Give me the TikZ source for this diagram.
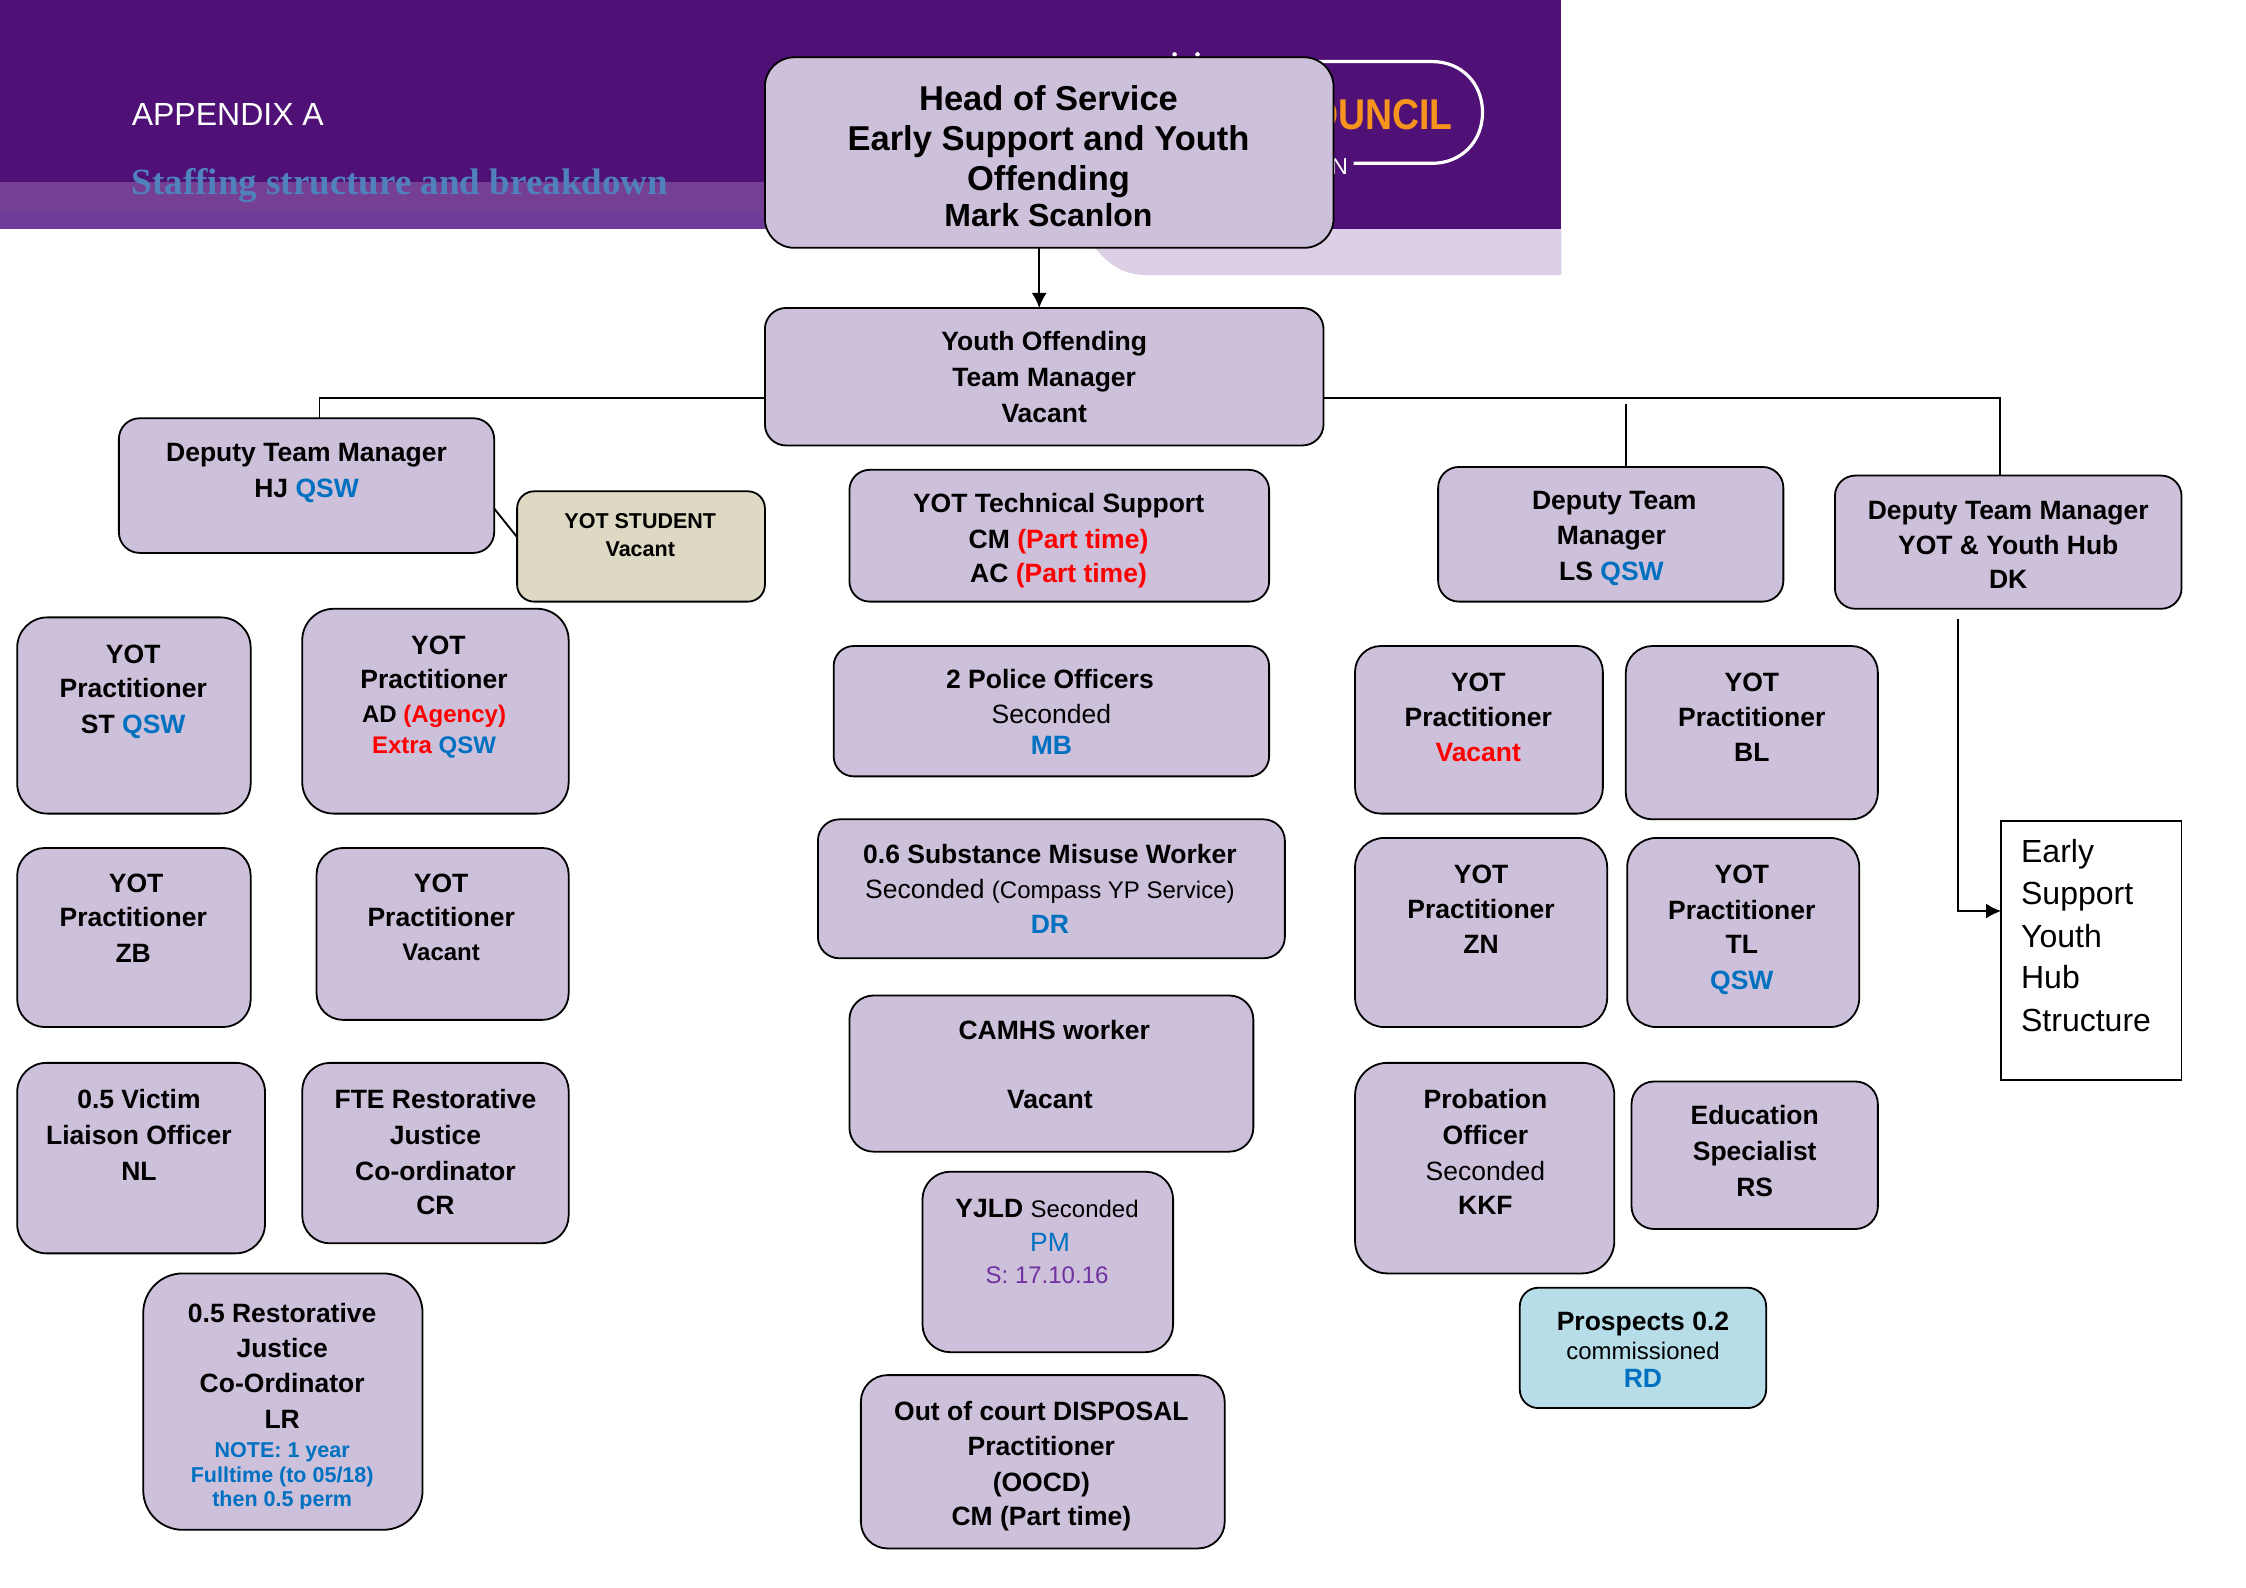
\documentclass[tikz,border=0pt]{standalone}
\usepackage{graphicx}
\usepackage{fontspec}
\setmainfont{Liberation Sans}
\newfontfamily\serifhead{Liberation Serif}
\usetikzlibrary{arrows.meta}
\definecolor{boxfill}{HTML}{CCC0DA}
\definecolor{qsw}{HTML}{0070C0}
\definecolor{hdr}{HTML}{4F1175}
\definecolor{bandA}{HTML}{754093}
\definecolor{bandB}{HTML}{703C9A}
\definecolor{lav}{HTML}{DCD0E6}
\definecolor{stud}{HTML}{DDD9C3}
\definecolor{pros}{HTML}{B7DEE8}
\definecolor{sdate}{HTML}{7030A0}
\definecolor{stafftxt}{HTML}{4F81BD}
\definecolor{orangec}{HTML}{F7941E}
\newcounter{tlc}
\newcommand{\sz}[1]{\fontsize{#1}{#1}\selectfont}
\newcommand{\bx}[6][]{\pgfmathsetmacro{\rr}{min(#4-#2,#5-#3)*1.4324/6.5}\node[orgbox,rounded corners=\rr pt,#1,minimum width={(#4-#2)*1.4324pt},minimum height={(#5-#3)*1.4324pt}] (#6) at ({(#2+#4)/2},{(#3+#5)/2}) {};}
\newcommand{\tl}[4][]{\stepcounter{tlc}\node[linetext,#1,yshift={-(0.36*\curfs-2.2)*1pt}] (t\thetlc) at (#2,#3) {#4};}
\newcommand{\Q}[1]{\textcolor{qsw}{#1}}
\newcommand{\R}[1]{\textcolor{red}{#1}}
\begin{document}
\begin{tikzpicture}[x=1.4324pt,y=-1.4324pt,
  fs/.code={\def\curfs{#1}},
  orgbox/.style={draw=black,line width=1.8pt,fill=boxfill,inner sep=0pt,outer sep=0pt},
  plainbox/.style={draw=black,line width=1.8pt,fill=white,rounded corners=0pt},
  linetext/.style={inner sep=0pt,outer sep=0pt,anchor=mid,fs=26.5,font=\sz{26.5}\bfseries,text=black},
  small/.style={fs=24,font=\sz{24}\bfseries},
  tiny/.style={fs=21.5,font=\sz{21.5}\bfseries},
  reg/.style={font=\sz{26.5}},
  lgreg/.style={anchor=mid west,fs=32,font=\sz{32}},
  link/.style={draw=black,line width=1.8pt},
  big/.style={fs=34.5,font=\sz{34.5}\bfseries}]
\useasboundingbox (0,0) rectangle (1568,1108.6);
% header
\fill[hdr] (0,0) rectangle (1090,160);
\fill[bandA] (0,127) rectangle (560,147);
\fill[bandB] (0,147) rectangle (560,160);
\fill[lav] (755,160) .. controls (768,180) and (780,192) .. (800,192) -- (1090,192) -- (1090,160) -- cycle;
\draw[white,line width=3.2pt] (900,43) -- (1000,43) .. controls (1020,43) and (1035,58) .. (1035,78.5) .. controls (1035,99) and (1020,114) .. (1000,114) -- (945,114);
\fill[white] (820,38) circle (1.6);
\fill[white] (836,38) circle (1.6);
\tl[anchor=mid east,fs=43,font=\sz{43}\bfseries,text=orangec]{1014}{79}{\scalebox{.87}[1]{OUNCIL}}
\tl[anchor=mid east,fs=23,font=\sz{23},text=white]{941}{116}{N}
\tl[anchor=mid west,fs=32,font=\sz{32},text=white]{92}{79}{APPENDIX A}
\tl[anchor=mid west,fs=37,font=\serifhead\bfseries\sz{37},text=stafftxt]{92}{126}{Staffing structure and breakdown}
% boxes
\bx{534}{40}{931}{173}{head}
\bx{534}{215}{924}{311}{yotm}
\bx{83}{292}{345}{386}{dhj}
\bx[fill=stud]{361}{343}{534}{420}{student}
\bx{593}{328}{886}{420}{tech}
\bx{1004}{326}{1245}{420}{dls}
\bx{1281}{332}{1523}{425}{ddk}
\bx{12}{431}{175}{568}{st}
\bx{211}{425}{397}{568}{ad}
\bx{582}{451}{886}{542}{police}
\bx{946}{451}{1119}{568}{pvac}
\bx{1135}{451}{1311}{572}{bl}
\bx{12}{592}{175}{717}{zb}
\bx{221}{592}{397}{712}{pvac2}
\bx{571}{572}{897}{669}{subst}
\bx{946}{585}{1122}{717}{zn}
\bx{1136}{585}{1298}{717}{tlb}
\bx[plainbox]{1397}{573}{1523}{754}{early}
\bx{12}{742}{185}{875}{victim}
\bx{211}{742}{397}{868}{fte}
\bx{593}{695}{875}{804}{camhs}
\bx{946}{742}{1127}{889}{prob}
\bx{1139}{755}{1311}{858}{edu}
\bx{644}{818}{819}{944}{yjld}
\bx{100}{889}{295}{1068}{rest}
\bx[fill=pros]{1061}{899}{1233}{983}{prospects}
\bx{601}{960}{855}{1081}{oocd}
% connectors
\coordinate (jhj) at (223,278);
\coordinate (jls) at (1135,282);
\coordinate (jdk) at (1396.5,278);
\coordinate (ddkout) at (1367,432);
\coordinate (arrx) at (725.5,200);
\coordinate (stfrom) at (345,355);
\coordinate (stto) at (361,375);
\coordinate (earlyin) at (1367,636);
\draw[link,-{Latex[length=15pt,width=15pt]}] (head.south -| arrx) -- (yotm.north -| arrx);
\draw[link] (yotm.west |- jhj) -- (jhj) -- (dhj.north -| jhj);
\draw[link] (yotm.east |- jdk) -- (jdk) -- (ddk.north -| jdk);
\draw[link] (jls) -- (dls.north -| jls);
\draw[link] (stfrom) -- (stto);
\draw[link,-{Latex[length=15pt,width=15pt]}] (ddkout) -- (earlyin) -- (early.west |- earlyin);
% texts
\tl[big]{732}{68}{Head of Service}
\tl[big]{732}{96}{Early Support and Youth}
\tl[big]{732}{124}{Offending}
\tl[fs=32,font=\sz{32}\bfseries]{732}{150}{Mark Scanlon}
\tl{729}{238}{Youth Offending}
\tl{729}{263}{Team Manager}
\tl{729}{288}{Vacant}
\tl{214}{315}{Deputy Team Manager}
\tl{214}{340}{HJ \Q{QSW}}
\tl[tiny]{447}{363}{YOT STUDENT}
\tl[tiny]{447}{383}{Vacant}
\tl{739}{351}{YOT Technical Support}
\tl{739}{376}{CM \R{(Part time)}}
\tl{739}{400}{AC \R{(Part time)}}
\tl{1127}{349}{Deputy Team}
\tl{1125}{373}{Manager}
\tl{1125}{398}{LS \Q{QSW}}
\tl{1402}{356}{Deputy Team Manager}
\tl{1402}{380}{YOT \& Youth Hub}
\tl{1402}{404}{DK}
\tl{93}{456}{YOT}
\tl{93}{480}{Practitioner}
\tl{93}{505}{ST \Q{QSW}}
\tl{306}{450}{YOT}
\tl{303}{474}{Practitioner}
\tl[small]{303}{498}{AD \R{(Agency)}}
\tl[small]{303}{520}{\R{Extra} \Q{QSW}}
\tl{733}{474}{2 Police Officers}
\tl[reg]{734}{498}{Seconded}
\tl{734}{520}{\Q{MB}}
\tl{1032}{476}{YOT}
\tl{1032}{500}{Practitioner}
\tl{1032}{525}{\R{Vacant}}
\tl{1223}{476}{YOT}
\tl{1223}{500}{Practitioner}
\tl{1223}{525}{BL}
\tl{95}{616}{YOT}
\tl{93}{640}{Practitioner}
\tl{93}{665}{ZB}
\tl{308}{616}{YOT}
\tl{308}{640}{Practitioner}
\tl[small]{308}{664}{Vacant}
\tl{733}{596}{0.6 Substance Misuse Worker}
\tl[reg]{733}{620}{Seconded {\sz{24}(Compass YP Service)}}
\tl{733}{645}{\Q{DR}}
\tl{1034}{610}{YOT}
\tl{1034}{634}{Practitioner}
\tl{1034}{659}{ZN}
\tl{1216}{610}{YOT}
\tl{1216}{635}{Practitioner}
\tl{1216}{659}{TL}
\tl{1216}{684}{\Q{QSW}}
\tl[lgreg]{1411}{594}{Early}
\tl[lgreg]{1411}{623}{Support}
\tl[lgreg]{1411}{653}{Youth}
\tl[lgreg]{1411}{682}{Hub}
\tl[lgreg]{1411}{712}{Structure}
\tl{97}{767}{0.5 Victim}
\tl{97}{792}{Liaison Officer}
\tl{97}{817}{NL}
\tl{304}{767}{FTE Restorative}
\tl{304}{792}{Justice}
\tl{304}{817}{Co-ordinator}
\tl{304}{841}{CR}
\tl{736}{719}{CAMHS worker}
\tl{733}{767}{Vacant}
\tl{1037}{767}{Probation}
\tl{1037}{792}{Officer}
\tl[reg]{1037}{817}{Seconded}
\tl{1037}{841}{KKF}
\tl{1225}{778}{Education}
\tl{1225}{803}{Specialist}
\tl{1225}{828}{RS}
\tl{731}{843}{YJLD {\mdseries\sz{24}Seconded}}
\tl[reg,text=qsw]{733}{867}{PM}
\tl[fs=24,font=\sz{24},text=sdate]{731}{890}{S: 17.10.16}
\tl{197}{916}{0.5 Restorative}
\tl{197}{941}{Justice}
\tl{197}{965}{Co-Ordinator}
\tl{197}{990}{LR}
\tl[tiny,text=qsw]{197}{1012}{NOTE: 1 year}
\tl[tiny,text=qsw]{197}{1029}{Fulltime (to 05/18)}
\begin{scope}
\clip (110,1036) rectangle (285,1053);
\tl[tiny,text=qsw]{197}{1046}{then 0.5 perm}
\end{scope}
\tl{1147}{922}{Prospects 0.2}
\tl[fs=24,font=\sz{24}]{1147}{943}{commissioned}
\tl{1147}{962}{\Q{RD}}
\tl{727}{985}{Out of court DISPOSAL}
\tl{727}{1009}{Practitioner}
\tl{727}{1034}{(OOCD)}
\tl{727}{1058}{CM (Part time)}
\end{tikzpicture}
\end{document}
